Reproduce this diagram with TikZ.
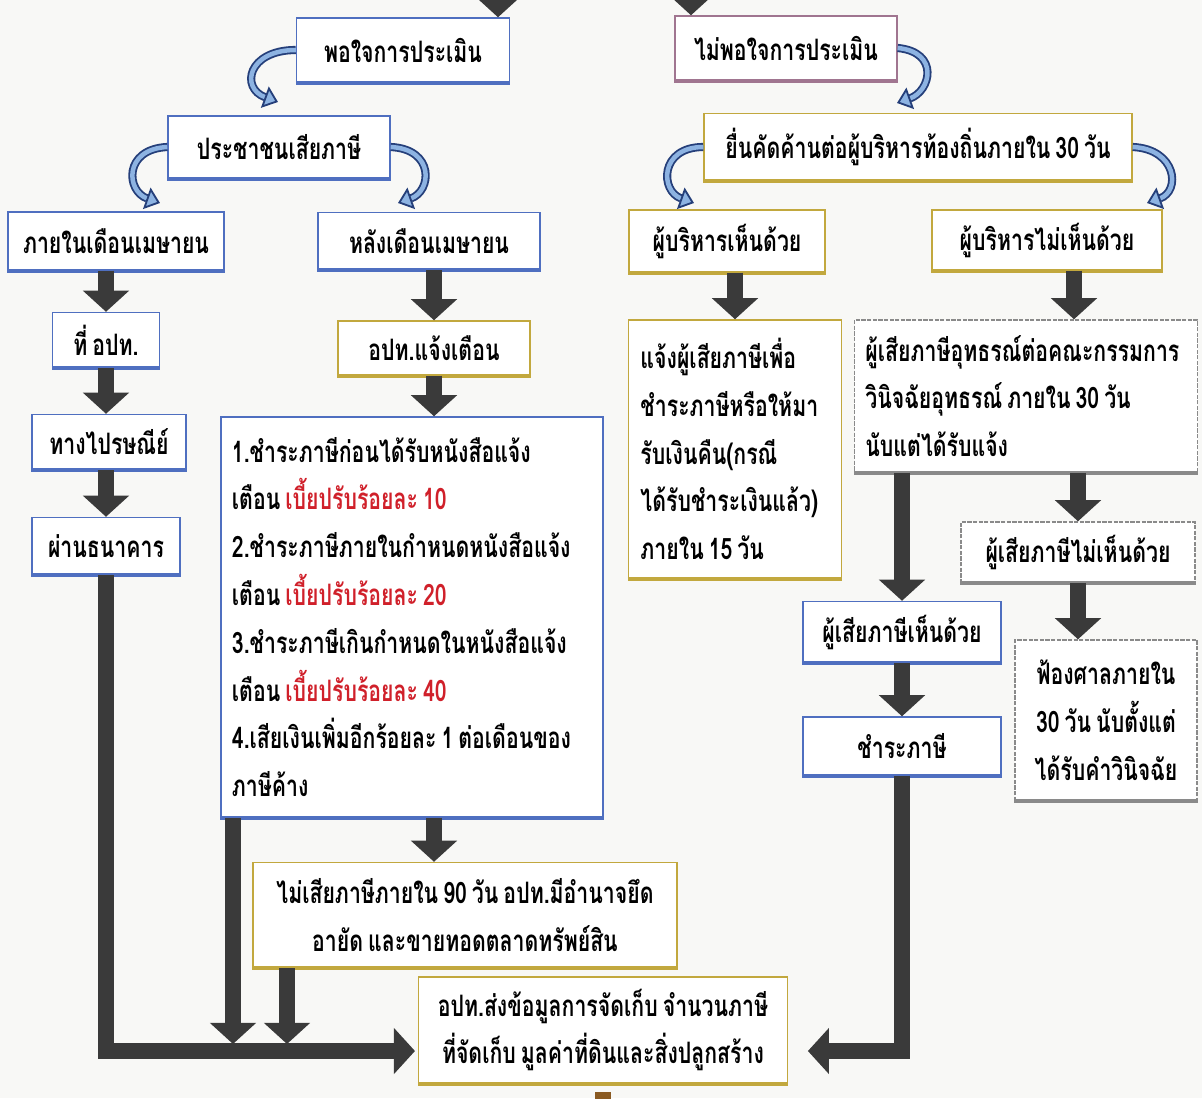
\documentclass[tikz,border=0pt]{standalone}
\usepackage{fontspec}
\usetikzlibrary{arrows.meta,calc}
\newfontfamily\thai[Script=Thai,FakeStretch=0.72,WordSpace=0.7]{Loma}
\definecolor{boxblue}{HTML}{4F6FC0}
\definecolor{boxgold}{HTML}{C2A83E}
\definecolor{boxmauve}{HTML}{A07590}
\definecolor{boxgrey}{HTML}{8A8A8A}
\definecolor{arrowdark}{HTML}{3A3A3A}
\definecolor{curveblue}{HTML}{253F7A}
\definecolor{curvefill}{HTML}{8DB3E2}
\definecolor{finered}{HTML}{D0202A}
\definecolor{paper}{HTML}{F8F8F6}
\definecolor{stubbrown}{HTML}{8A5A22}
\tikzset{
  box/.style={draw=#1, line width=1pt, fill=white, align=center, inner sep=0pt,
    font=\thai\bfseries\fontsize{21}{34}\selectfont,
    append after command={(\tikzlastnode.south west) edge[draw=#1,line width=2.6pt] (\tikzlastnode.south east)}},
  greybox/.style={box=boxgrey, dash pattern=on 3pt off 1pt},
  sz/.style 2 args={minimum width=#1*0.025cm, minimum height=#2*0.025cm},
  blockarrow/.style={draw=arrowdark, line width=12pt, -{Triangle[length=15pt,width=32pt]}},
  curvearrow/.style={draw=curveblue, line width=1.3pt, double=curvefill, double distance=3.2pt,
    -{Triangle[length=10pt,width=16pt,fill=curvefill]}}
}
\begin{document}
\begin{tikzpicture}[x=0.025cm,y=-0.025cm]
  \useasboundingbox (0,0) rectangle (1202,1098);
  \fill[paper] (0,0) rectangle (1202,1098);
  \clip (0,0) rectangle (1202,1098);
  %BOXES
  \node[box=boxblue, sz={213}{64}] (pleased) at (403,50) {พอใจการประเมิน};
  \node[box=boxmauve, sz={222}{64}] (displeased) at (786,48) {ไม่พอใจการประเมิน};
  \node[box=boxblue, sz={222}{62}] (taxpayer) at (279,147) {ประชาชนเสียภาษี};
  \node[box=boxgold, sz={428}{67}] (objection) at (918,147) {ยื่นคัดค้านต่อผู้บริหารท้องถิ่นภายใน 30 วัน};
  \node[box=boxblue, sz={216}{58}] (inapril) at (116,241) {ภายในเดือนเมษายน};
  \node[box=boxblue, sz={222}{57}] (afterapril) at (429,241) {หลังเดือนเมษายน};
  \node[box=boxgold, sz={196}{62}] (execyes) at (727,241) {ผู้บริหารเห็นด้วย};
  \node[box=boxgold, sz={230}{60}] (execno) at (1047,240) {ผู้บริหารไม่เห็นด้วย};
  \node[box=boxblue, sz={107}{55}] (atoffice) at (106,340) {ที่ อปท.};
  \node[box=boxgold, sz={192}{54}] (notice) at (434,348) {อปท.แจ้งเตือน};
  \node[box=boxblue, sz={154}{55}] (post) at (109,442) {ทางไปรษณีย์};
  \node[box=boxblue, sz={148}{57}] (bank) at (106,546) {ผ่านธนาคาร};
  \node[box=boxblue, sz={382}{400}, align=flush left, text width=9cm] (fines) at (412,617)
    {1.ชำระภาษีก่อนได้รับหนังสือแจ้ง\\
     เตือน {\color{finered}เบี้ยปรับร้อยละ 10}\\
     2.ชำระภาษีภายในกำหนดหนังสือแจ้ง\\
     เตือน {\color{finered}เบี้ยปรับร้อยละ 20}\\
     3.ชำระภาษีเกินกำหนดในหนังสือแจ้ง\\
     เตือน {\color{finered}เบี้ยปรับร้อยละ 40}\\
     4.เสียเงินเพิ่มอีกร้อยละ 1 ต่อเดือนของ\\
     ภาษีค้าง};
  \node[box=boxgold, sz={213}{258}, align=flush left, text width=4.725cm] (inform) at (735,449)
    {แจ้งผู้เสียภาษีเพื่อ\\ ชำระภาษีหรือให้มา\\ รับเงินคืน(กรณี\\ ได้รับชำระเงินแล้ว)\\ ภายใน 15 วัน};
  \node[greybox, sz={343}{152}, align=flush left, text width=8.025cm] (appeal) at (1026,396)
    {ผู้เสียภาษีอุทธรณ์ต่อคณะกรรมการ\\ วินิจฉัยอุทธรณ์ ภายใน 30 วัน\\ นับแต่ได้รับแจ้ง};
  \node[greybox, sz={234}{60}] (payerno) at (1078,552) {ผู้เสียภาษีไม่เห็นด้วย};
  \node[box=boxblue, sz={198}{61}] (payeryes) at (902,632) {ผู้เสียภาษีเห็นด้วย};
  \node[box=boxblue, sz={198}{58}] (pay) at (902,746) {ชำระภาษี};
  \node[greybox, sz={182}{160}] (court) at (1106,720) {ฟ้องศาลภายใน\\ 30 วัน นับตั้งแต่\\ ได้รับคำวินิจฉัย};
  \node[box=boxgold, sz={424}{105}] (seize) at (465,915) {ไม่เสียภาษีภายใน 90 วัน อปท.มีอำนาจยึด\\ อายัด และขายทอดตลาดทรัพย์สิน};
  \node[box=boxgold, sz={369}{106}] (report) at (603,1030) {อปท.ส่งข้อมูลการจัดเก็บ จำนวนภาษี\\ ที่จัดเก็บ มูลค่าที่ดินและสิ่งปลูกสร้าง};
  %COORDINATES
  \coordinate (in1) at (498,-30);
  \coordinate (in2) at (691,-30);
  \coordinate (lowline) at (0,1051);
  \coordinate (lowtop) at (0,1044);
  \coordinate (drop1) at (233,0);
  \coordinate (drop2) at (287,0);
  \coordinate (execdrop) at (1074,0);
  %BLOCK ARROWS
  \draw[blockarrow] (in1) -- (in1 |- pleased.north);
  \draw[blockarrow] (in2) -- (in2 |- displeased.north);
  \draw[blockarrow] (atoffice.north |- inapril.south) -- (atoffice.north);
  \draw[blockarrow] (atoffice.south) -- (atoffice.south |- post.north);
  \draw[blockarrow] (bank.north |- post.south) -- (bank.north);
  \draw[blockarrow,shorten >=2pt] (bank.south) |- (report.west |- lowline);
  \draw[blockarrow] (notice.north |- afterapril.south) -- (notice.north);
  \draw[blockarrow] (notice.south) -- (notice.south |- fines.north);
  \draw[blockarrow] (notice.south |- fines.south) -- (notice.south |- seize.north);
  \draw[blockarrow] (drop1 |- fines.south) -- (drop1 |- lowtop);
  \draw[blockarrow] (drop2 |- seize.south) -- (drop2 |- lowtop);
  \draw[blockarrow] (inform.north |- execyes.south) -- (inform.north);
  \draw[blockarrow] (execdrop |- execno.south) -- (execdrop |- appeal.north);
  \draw[blockarrow] (payeryes.north |- appeal.south) -- (payeryes.north);
  \draw[blockarrow] (payerno.north |- appeal.south) -- (payerno.north);
  \draw[blockarrow] (payerno.south) -- (payerno.south |- court.north);
  \draw[blockarrow] (payeryes.south) -- (pay.north);
  \draw[blockarrow,shorten >=14pt] (pay.south) |- (report.east |- lowline);
  \draw[stubbrown,line width=12pt] ([yshift=-6pt]report.south) -- ++(0,40);
  %CURVED ARROWS
  \draw[curvearrow] (pleased.west) .. controls +(-48,0) and +(-38,-14) .. (278,102);
  \draw[curvearrow] (taxpayer.west) .. controls +(-44,2) and +(-34,-12) .. (160,203);
  \draw[curvearrow] (taxpayer.east) .. controls +(44,2) and +(34,-12) .. (398,203);
  \draw[curvearrow] (displeased.east) .. controls +(42,4) and +(34,-12) .. (897,103);
  \draw[curvearrow] (objection.west) .. controls +(-44,0) and +(-34,-12) .. (694,203);
  \draw[curvearrow] (objection.east) .. controls +(44,2) and +(34,-12) .. (1147,203);
\end{tikzpicture}
\end{document}
